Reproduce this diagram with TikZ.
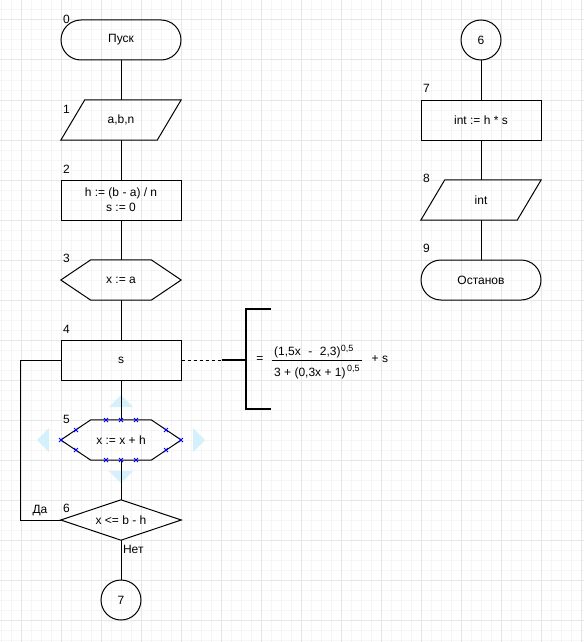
\documentclass[tikz,border=0pt]{standalone}
\usepackage{fontspec}
\setmainfont{Liberation Sans}
\usetikzlibrary{calc}
\definecolor{gridminor}{RGB}{245,245,245}
\definecolor{gridmajor}{RGB}{230,230,230}
\definecolor{handlefill}{RGB}{212,240,252}
\definecolor{handlemark}{RGB}{0,0,255}
\begin{document}
\begin{tikzpicture}[x=1pt,y=-1pt,
  every node/.style={font=\fontsize{12pt}{15pt}\selectfont, inner sep=0pt},
  slot/.style={rectangle, minimum width=120pt, minimum height=40pt, align=center},
  procbox/.style={slot, draw, line width=1pt},
  termbox/.style={slot, draw, rounded corners=20pt, line width=1pt},
  connbox/.style={circle, draw, minimum size=40pt, line width=1pt},
  flow/.style={line width=1pt},
  outline/.style={line width=1pt, line join=miter},
  numlabel/.style={anchor=center},
  frm/.style={font=\fontsize{12pt}{14pt}\selectfont},
  frmsup/.style={font=\fontsize{9pt}{10pt}\selectfont},
  handle/.style={fill=handlefill, draw=none},
  selmark/.style={draw=handlemark, line width=0.8pt}
]
% page and grid
\fill[white] (0,0) rectangle (584,642);
\useasboundingbox (0,0) rectangle (584,642);
\foreach \gx in {1,11,...,581} \draw[gridminor, line width=1pt] (\gx,0) -- (\gx,642);
\foreach \gy in {0,10,...,640} \draw[gridminor, line width=1pt] (0,\gy) -- (584,\gy);
\foreach \gx in {21,61,...,581} \draw[gridmajor, line width=1pt] (\gx,0) -- (\gx,642);
\foreach \gy in {20,60,...,620} \draw[gridmajor, line width=1pt] (0,\gy) -- (584,\gy);

% resize arrows around block 5
\fill[handle] (121,395) -- (109,407) -- (133,407) -- cycle;
\fill[handle] (121,483) -- (109,471) -- (133,471) -- cycle;
\fill[handle] (37,440) -- (49,428) -- (49,452) -- cycle;
\fill[handle] (205,440) -- (193,428) -- (193,452) -- cycle;

% left column
\node[termbox] (n0) at (121,40) {Пуск};
\node[slot] (n1) at (121,120) {a,b,n};
\node[procbox] (n2) at (121,200) {h := (b - a) / n\\s := 0};
\node[slot] (n3) at (121,280) {x := a};
\node[procbox] (n4) at (121,360) {s};
\node[slot] (n5) at (121,440) {x := x + h};
\node[slot] (n6) at (121,520) {x <= b - h};
\node[connbox] (c7) at (121,600) {7};

% right column
\node[connbox] (c6) at (481,40) {6};
\node[procbox] (n7) at (481,120) {int := h * s};
\node[slot] (n8) at (481,200) {int};
\node[termbox] (n9) at (481,280) {Останов};

% outlines of the non-rectangular blocks
\draw[outline] ($(n1.north west)+(24,0)$) -- (n1.north east) -- ($(n1.south east)+(-24,0)$) -- (n1.south west) -- cycle;
\draw[outline] ($(n8.north west)+(24,0)$) -- (n8.north east) -- ($(n8.south east)+(-24,0)$) -- (n8.south west) -- cycle;
\draw[outline] ($(n3.north west)+(30,0)$) -- ($(n3.north east)+(-30,0)$) -- (n3.east) -- ($(n3.south east)+(-30,0)$) -- ($(n3.south west)+(30,0)$) -- (n3.west) -- cycle;
\draw[outline] ($(n5.north west)+(30,0)$) -- ($(n5.north east)+(-30,0)$) -- (n5.east) -- ($(n5.south east)+(-30,0)$) -- ($(n5.south west)+(30,0)$) -- (n5.west) -- cycle;
\draw[outline] (n6.north) -- (n6.east) -- (n6.south) -- (n6.west) -- cycle;

% connectors
\draw[flow] (n0) -- (n1);
\draw[flow] (n1) -- (n2);
\draw[flow] (n2) -- (n3);
\draw[flow] (n3) -- (n4);
\draw[flow] (n4) -- (n5);
\draw[flow] (n5) -- (n6);
\draw[flow] (n6) -- (c7);
\draw[flow] (n4.west) -- ++(-40,0) |- (n6.west);
\draw[flow] (c6) -- (n7);
\draw[flow] (n7) -- (n8);
\draw[flow] (n8) -- (n9);

% branch labels
\node[anchor=base] (yes) at (40,513) {Да};
\node[anchor=base] (no) at (133.3,553.5) {Нет};

% block numbers
\node[numlabel] (l0) at (66.5,19) {0};
\node[numlabel] (l1) at (66.5,109) {1};
\node[numlabel] (l2) at (66.5,169) {2};
\node[numlabel] (l3) at (66.5,258.5) {3};
\node[numlabel] (l4) at (66.5,329) {4};
\node[numlabel] (l5) at (66.5,419) {5};
\node[numlabel] (l6) at (66.5,508.5) {6};
\node[numlabel] (l7) at (426.5,88.5) {7};
\node[numlabel] (l8) at (426.5,178.5) {8};
\node[numlabel] (l9) at (426.5,248.5) {9};

% comment on block 4
\coordinate (dashend) at (221.5,360);
\coordinate (brmid) at (245.5,360);
\coordinate (brtop) at (245.5,308.5);
\coordinate (brbot) at (245.5,408.5);
\draw[line width=1pt, dash pattern=on 3pt off 3pt] (n4.east) -- (dashend);
\draw[line width=2pt] (dashend) -- (brmid);
\draw[line width=2pt] ($(brtop)+(25,0)$) -- (brtop) -- (brbot) -- ($(brbot)+(25,0)$);

% formula
\node[frm, anchor=center] (feq) at (260,359.5) {=};
\node[frm, anchor=base west] (fnum) at (274,355.5) {(1,5x\hspace{7.5pt}-\hspace{7.5pt}2,3)};
\node[frmsup, anchor=base west] (fnumsup) at (fnum.base east) {\raisebox{4.5pt}{0,5}};
\draw[line width=1pt] (271.7,360.3) -- (361.7,360.3);
\node[frm, anchor=base west] (fden) at (274,376) {3 + (0,3x + 1)};
\node[frmsup, anchor=base west] (fdensup) at (347,371.5) {0,5};
\node[frm, anchor=base west] (fplus) at (371.5,362) {+ s};

% selection marks on block 5
\foreach \mx/\my in {106/420, 121/420, 136/420, 106/460, 121/460, 136/460,
                    61/440, 181/440, 76/430, 76/450, 166/430, 166/450}
  \draw[selmark] (\mx-2,\my-2) -- (\mx+2,\my+2) (\mx-2,\my+2) -- (\mx+2,\my-2);
\end{tikzpicture}
\end{document}
